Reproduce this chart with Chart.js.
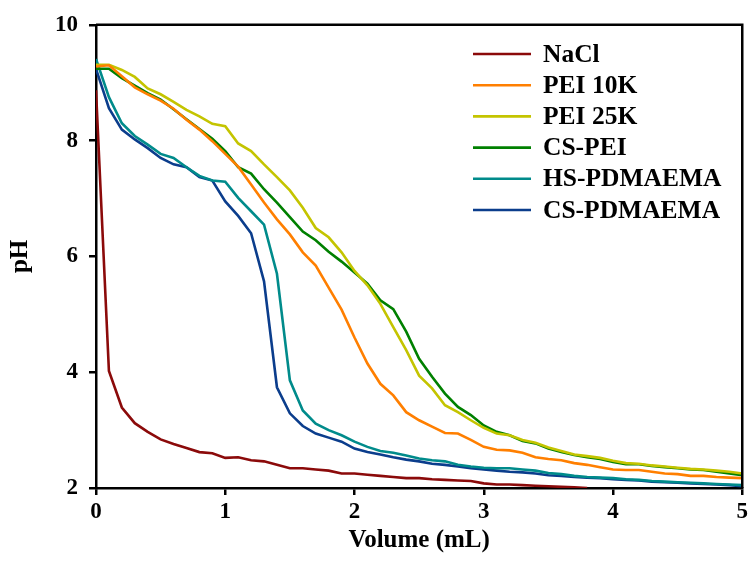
<!DOCTYPE html>
<html>
<head>
<meta charset="utf-8">
<script src="https://cdn.jsdelivr.net/npm/chart.js@4.4.0/dist/chart.umd.min.js"></script>
<style>
html,body{margin:0;padding:0;background:#fff;}
#wrap{width:751px;height:580px;}
</style>
</head>
<body>
<div id="wrap"><canvas id="c" width="751" height="580"></canvas></div>
<script>
// Volume (mL) sampled every 0.1 mL
const volume = [0.0,0.1,0.2,0.3,0.4,0.5,0.6,0.7,0.8,0.9,1.0,1.1,1.2,1.3,1.4,1.5,1.6,1.7,1.8,1.9,2.0,2.1,2.2,2.3,2.4,2.5,2.6,2.7,2.8,2.9,3.0,3.1,3.2,3.3,3.4,3.5,3.6,3.7,3.8,3.9,4.0,4.1,4.2,4.3,4.4,4.5,4.6,4.7,4.8,4.9,5.0];

const nacl = [8.87,4.02,3.39,3.12,2.97,2.84,2.76,2.69,2.62,2.60,2.52,2.53,2.48,2.46,2.40,2.34,2.34,2.32,2.30,2.25,2.25,2.23,2.21,2.19,2.17,2.17,2.15,2.14,2.13,2.12,2.08,2.06,2.06,2.05,2.04,2.03,2.02,2.01,2.00];

const pei10k = [9.28,9.30,9.11,8.92,8.80,8.69,8.55,8.36,8.19,7.99,7.77,7.55,7.24,6.93,6.64,6.38,6.07,5.84,5.46,5.08,4.60,4.15,3.80,3.60,3.31,3.17,3.06,2.95,2.94,2.83,2.71,2.66,2.65,2.61,2.53,2.50,2.48,2.43,2.40,2.36,2.32,2.31,2.31,2.28,2.25,2.24,2.21,2.21,2.19,2.18,2.17];

const pei25k = [9.31,9.31,9.22,9.10,8.90,8.80,8.67,8.53,8.42,8.29,8.25,7.95,7.82,7.59,7.37,7.14,6.84,6.49,6.33,6.07,5.75,5.50,5.18,4.78,4.38,3.94,3.72,3.43,3.31,3.17,3.04,2.94,2.91,2.83,2.78,2.70,2.64,2.58,2.55,2.52,2.47,2.43,2.42,2.39,2.37,2.35,2.33,2.32,2.30,2.28,2.25];

const csPei = [9.24,9.24,9.08,8.95,8.82,8.71,8.54,8.37,8.20,8.03,7.82,7.54,7.43,7.16,6.93,6.68,6.43,6.28,6.08,5.91,5.72,5.53,5.24,5.09,4.70,4.23,3.92,3.63,3.40,3.26,3.08,2.97,2.91,2.81,2.77,2.68,2.62,2.57,2.53,2.50,2.45,2.41,2.41,2.38,2.36,2.34,2.32,2.31,2.28,2.25,2.22];

const hsPdmaema = [9.41,8.75,8.30,8.08,7.93,7.77,7.70,7.54,7.39,7.31,7.29,7.01,6.78,6.55,5.70,3.86,3.34,3.11,3.00,2.91,2.80,2.71,2.64,2.61,2.56,2.51,2.48,2.46,2.40,2.37,2.35,2.34,2.34,2.32,2.30,2.26,2.24,2.21,2.19,2.18,2.17,2.15,2.14,2.12,2.11,2.10,2.09,2.08,2.07,2.06,2.05];

const csPdmaema = [9.24,8.56,8.19,8.02,7.87,7.70,7.59,7.54,7.37,7.31,6.95,6.70,6.40,5.57,3.74,3.29,3.07,2.94,2.87,2.80,2.68,2.62,2.58,2.53,2.49,2.46,2.42,2.40,2.37,2.34,2.32,2.30,2.28,2.27,2.25,2.22,2.21,2.19,2.18,2.17,2.15,2.14,2.13,2.11,2.10,2.09,2.08,2.07,2.06,2.05,2.03];

const seriesLabels = ['NaCl','PEI 10K','PEI 25K','CS-PEI','HS-PDMAEMA','CS-PDMAEMA'];
const seriesValues = [nacl, pei10k, pei25k, csPei, hsPdmaema, csPdmaema];
const seriesColors = ['#8B0A0A','#FF7F00','#C4C400','#008000','#008B8B','#0B3D8C'];

const xTicks = [0,1,2,3,4,5];
const yTicks = [2,4,6,8,10];

const FONT = '"Liberation Serif", "Times New Roman", serif';

function toPoints(vals){ return vals.map((v,i)=>({x: volume[i], y: v})); }

const datasets = seriesValues.map((vals,i)=>({
  label: seriesLabels[i],
  data: toPoints(vals),
  borderColor: seriesColors[i],
  backgroundColor: seriesColors[i],
  borderWidth: 2.6,
  pointRadius: 0,
  tension: 0,
  fill: false
}));

const boxPlugin = {
  id: 'box',
  afterDatasetsDraw(chart){
    const {ctx, chartArea:a} = chart;
    ctx.save();
    ctx.strokeStyle = '#000';
    ctx.lineWidth = 2.5;
    ctx.beginPath();
    ctx.moveTo(a.left, a.top); ctx.lineTo(a.right, a.top); ctx.lineTo(a.right, a.bottom);
    ctx.stroke();
    ctx.restore();
  }
};

const legendPlugin = {
  id: 'customLegend',
  afterDraw(chart){
    const ctx = chart.ctx;
    ctx.save();
    ctx.font = 'bold 25.5px ' + FONT;
    ctx.textBaseline = 'middle';
    ctx.fillStyle = '#000';
    seriesLabels.forEach((lab,i)=>{
      const y = 54 + i*31.2;
      ctx.strokeStyle = seriesColors[i];
      ctx.lineWidth = 2.6;
      ctx.beginPath(); ctx.moveTo(473, y); ctx.lineTo(531, y); ctx.stroke();
      ctx.fillText(lab, 543, y+1);
    });
    ctx.restore();
  }
};

new Chart(document.getElementById('c'), {
  type: 'line',
  data: { datasets },
  options: {
    responsive: false,
    animation: false,
    devicePixelRatio: 1,
    layout: { padding: { left: 0, right: 8, top: 23, bottom: 0 } },
    plugins: { legend: { display: false }, tooltip: { enabled: false } },
    scales: {
      x: {
        type: 'linear', min: 0, max: 5,
        afterFit(s){ s.height = 92; },
        afterBuildTicks(s){ s.ticks = xTicks.map(v=>({value:v})); },
        border: { display: true, color: '#000', width: 2.5 },
        grid: { display: true, drawOnChartArea: false, drawTicks: true, tickLength: 7, color: '#000', lineWidth: 2.5 },
        ticks: { color: '#000', font: { family: FONT, size: 23, weight: 'bold' }, padding: 3, maxRotation: 0 },
        title: { display: true, text: 'Volume (mL)', color: '#000', font: { family: FONT, size: 25, weight: 'bold' }, padding: { top: 0, bottom: 24 } }
      },
      y: {
        type: 'linear', min: 2, max: 10,
        afterFit(s){ s.width = 96; },
        afterBuildTicks(s){ s.ticks = yTicks.map(v=>({value:v})); },
        border: { display: true, color: '#000', width: 2.5 },
        grid: { display: true, drawOnChartArea: false, drawTicks: true, tickLength: 7, color: '#000', lineWidth: 2.5 },
        ticks: { color: '#000', font: { family: FONT, size: 23, weight: 'bold' }, padding: 11 },
        title: { display: true, text: 'pH', color: '#000', font: { family: FONT, size: 25, weight: 'bold' }, padding: { top: 6, bottom: 0 } }
      }
    }
  },
  plugins: [boxPlugin, legendPlugin]
});
</script>
</body>
</html>
